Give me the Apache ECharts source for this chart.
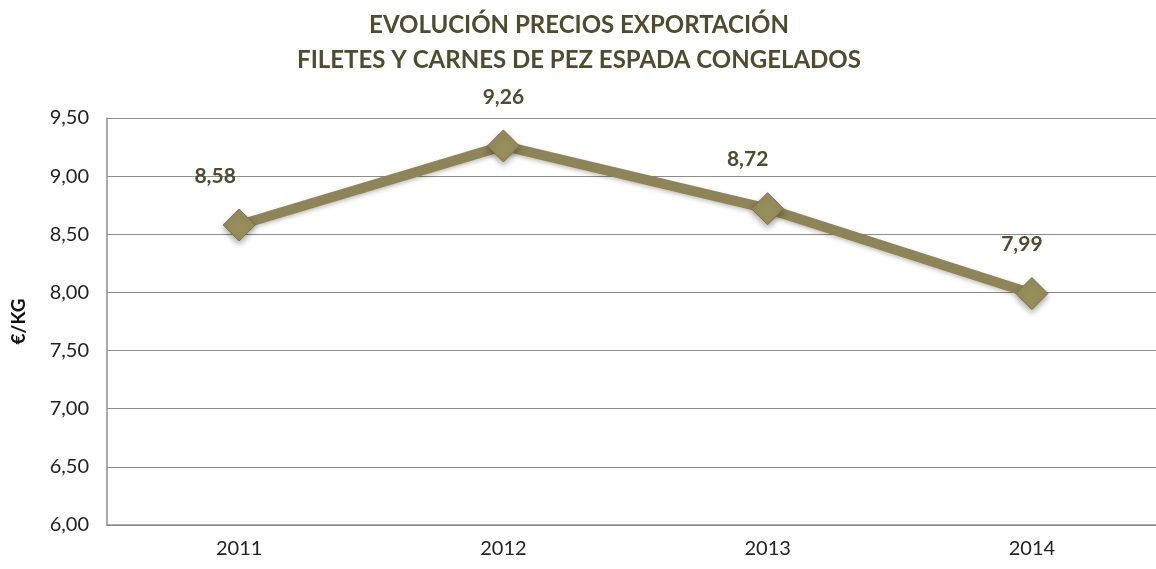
<!DOCTYPE html>
<html>
<head>
<meta charset="utf-8">
<script src="https://cdn.jsdelivr.net/npm/echarts@6/dist/echarts.min.js"></script>
<style>
  html, body { margin: 0; padding: 0; background: #fff; overflow: hidden; }
  /* el área de trazado del original se sale un poco por la derecha */
  #chart { width: 1164px; height: 569px; }
</style>
</head>
<body>
<div id="chart"></div>
<script>
// datos
const years = ['2011', '2012', '2013', '2014']
const prices = [8.58, 9.26, 8.72, 7.99]

// desplazamiento horizontal de cada etiqueta (como en el original de Excel)
const labelShift = [-24, 0, -20, -10]

const fmt = v => v.toFixed(2).replace('.', ',')
const font = 'Lato, "Open Sans", sans-serif'

const chart = echarts.init(document.getElementById('chart'))
chart.setOption({
  animation: false,
  title: {
    text: 'EVOLUCIÓN PRECIOS EXPORTACIÓN\nFILETES Y CARNES DE PEZ ESPADA CONGELADOS',
    left: 574,
    top: 3,
    textAlign: 'center',
    textStyle: {
      fontFamily: font,
      fontSize: 24,
      fontWeight: 'bold',
      color: '#4f4b2f',
      lineHeight: 35
    }
  },
  grid: { left: 107, right: 0, top: 118, bottom: 44 },
  xAxis: {
    type: 'category',
    data: years,
    boundaryGap: true,
    axisLine: { lineStyle: { color: '#8c8c8c', width: 1.5 } },
    axisTick: { show: false },
    axisLabel: { fontFamily: font, fontSize: 20, color: '#222', margin: 14 }
  },
  yAxis: {
    type: 'value',
    min: 6,
    max: 9.5,
    interval: 0.5,
    name: '€/KG',
    nameLocation: 'middle',
    nameGap: 79,
    nameRotate: 90,
    nameTextStyle: { fontFamily: font, fontSize: 19, fontWeight: 'bold', color: '#111' },
    axisLine: { show: true, lineStyle: { color: '#8c8c8c', width: 1.5 } },
    axisTick: { show: false },
    splitLine: { lineStyle: { color: '#8c8c8c', width: 1.2 } },
    axisLabel: { fontFamily: font, fontSize: 20, color: '#222', margin: 18, formatter: fmt }
  },
  series: [{
    type: 'line',
    data: prices.map((v, i) => ({ value: v, label: { offset: [labelShift[i], 0] } })),
    symbol: 'diamond',
    symbolSize: 32,
    lineStyle: {
      color: '#8d8557',
      width: 10,
      shadowColor: 'rgba(0,0,0,0.25)',
      shadowBlur: 4,
      shadowOffsetY: 2
    },
    itemStyle: {
      color: '#978e5c',
      borderColor: '#7a7347',
      borderWidth: 1,
      shadowColor: 'rgba(0,0,0,0.35)',
      shadowBlur: 6,
      shadowOffsetY: 3
    },
    label: {
      show: true,
      position: 'top',
      distance: 22,
      formatter: p => fmt(p.value),
      fontFamily: font,
      fontSize: 21,
      fontWeight: 'bold',
      color: '#4f4b2f'
    }
  }]
})
</script>
</body>
</html>
